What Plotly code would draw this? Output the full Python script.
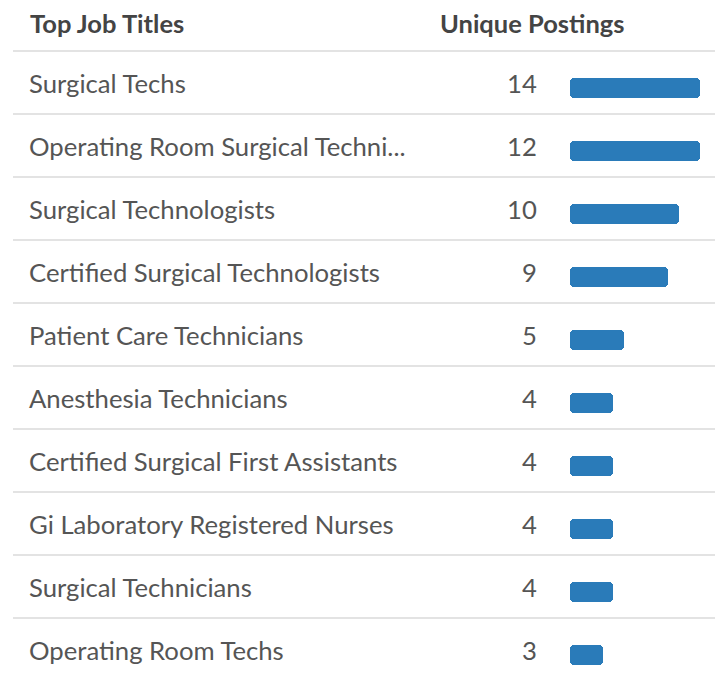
import plotly.graph_objects as go
import numpy as np

titles = [
    "Surgical Techs",
    "Operating Room Surgical Techni...",
    "Surgical Technologists",
    "Certified Surgical Technologists",
    "Patient Care Technicians",
    "Anesthesia Technicians",
    "Certified Surgical First Assistants",
    "Gi Laboratory Registered Nurses",
    "Surgical Technicians",
    "Operating Room Techs",
]
postings = [14, 12, 10, 9, 5, 4, 4, 4, 4, 3]
header_left = "Top Job Titles"
header_right = "Unique Postings"

# page body has an 8px margin; the figure is sized to fit the window
OFF = 8
W, H = 723 - OFF, 675 - OFF
ROW = 63.0
C0 = 82.5 - OFF  # figure-pixel center of first row
y_top = -C0 / ROW
y_bot = (H - C0) / ROW

def fx(px):
    return (px - OFF) / W

idx = list(range(len(titles)))
bar_cap = 12.0
bar_vals = np.minimum(np.array(postings, dtype=float), bar_cap)
EPS = 0.001

BLUE = "#2a7bb9"
fig = go.Figure()
fig.add_trace(go.Bar(
    x=bar_vals - EPS, base=[EPS] * len(idx), y=idx, orientation="h",
    width=20 / ROW, offset=-5 / ROW,
    marker=dict(color=BLUE, cornerradius=4, line=dict(width=0)),
    hoverinfo="skip", showlegend=False,
))

px_per_unit = 10.85
x0_px = 570
dom0 = fx(x0_px)
xr = (723 - x0_px) / px_per_unit

FONT = "Lato, 'Open Sans', sans-serif"
hy = (22.5 - 82.5) / ROW
ann = []
ann.append(dict(x=fx(27.5), xref="paper", y=hy, yref="y", text="<b>" + header_left + "</b>",
                showarrow=False, xanchor="left", yanchor="middle",
                font=dict(family=FONT, size=25.5, color="#444444")))
ann.append(dict(x=fx(627), xref="paper", y=hy, yref="y", text="<b>" + header_right + "</b>",
                showarrow=False, xanchor="right", yanchor="middle",
                font=dict(family=FONT, size=25.5, color="#444444")))
for i, (t, v) in enumerate(zip(titles, postings)):
    ann.append(dict(x=fx(27), xref="paper", y=i, yref="y", text=t, showarrow=False,
                    xanchor="left", yanchor="middle",
                    font=dict(family=FONT, size=25.7, color="#555555")))
    ann.append(dict(x=fx(539), xref="paper", y=i, yref="y", text=str(v), showarrow=False,
                    xanchor="right", yanchor="middle",
                    font=dict(family=FONT, size=25.7, color="#555555")))

shapes = []
for i in idx:
    shapes.append(dict(type="line", xref="paper", x0=fx(13), x1=1, yref="y", y0=i - 0.5, y1=i - 0.5,
                       line=dict(color="#e3e3e3", width=2), layer="below"))

fig.update_layout(
    width=W, height=H,
    margin=dict(l=0, r=0, t=0, b=0),
    paper_bgcolor="white", plot_bgcolor="white",
    xaxis=dict(domain=[dom0, 1], range=[0, xr], visible=False, fixedrange=True),
    yaxis=dict(range=[y_bot, y_top], visible=False, fixedrange=True),
    annotations=ann, shapes=shapes,
    bargap=0,
)

fig.write_html("out.html")
